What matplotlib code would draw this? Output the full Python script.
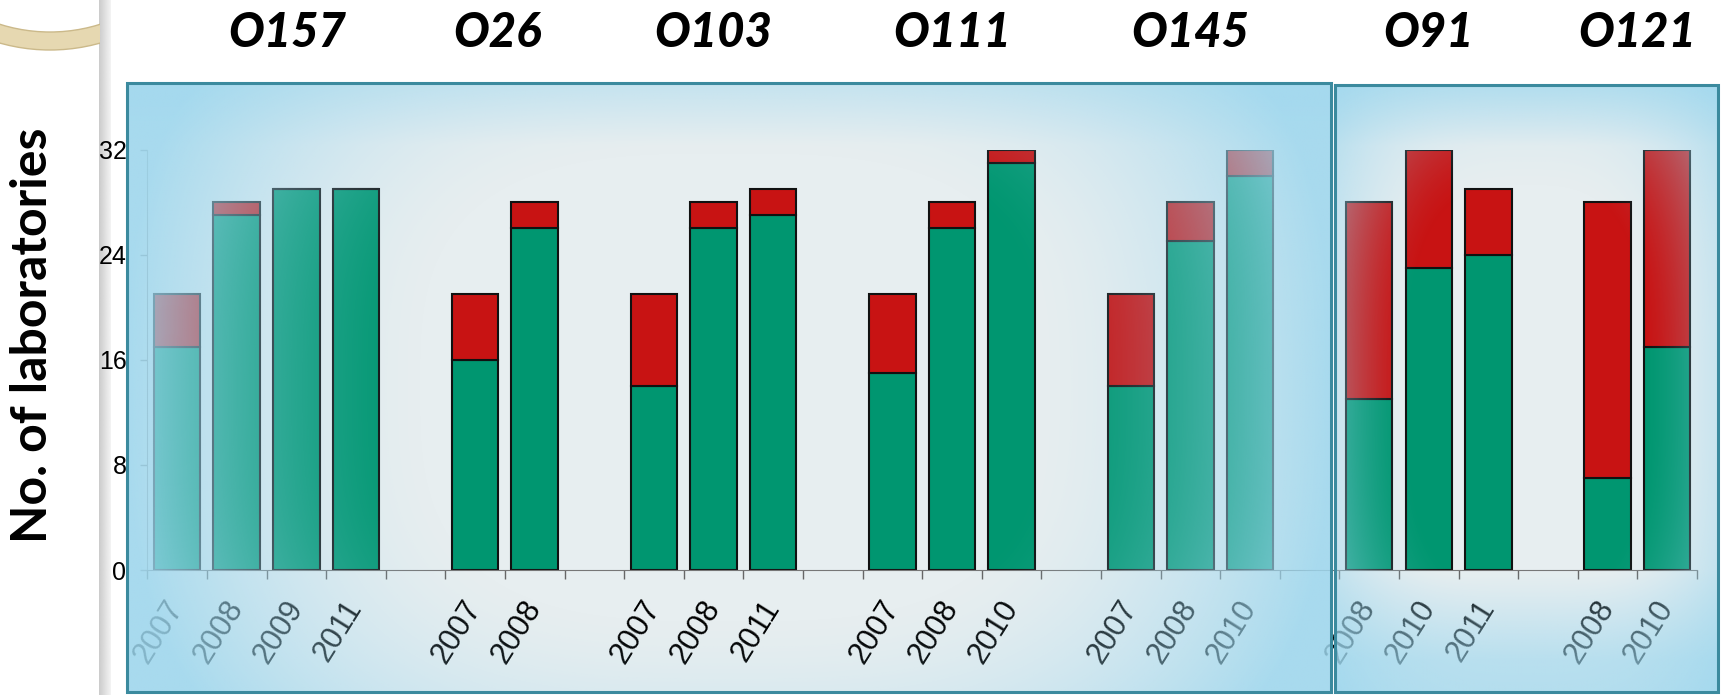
import numpy as np
import matplotlib
matplotlib.use('Agg')
import matplotlib.pyplot as plt
from matplotlib.patches import Rectangle, Annulus

# serogroups, years tested, labs with correct result and labs taking part
groups = ['O157', 'O26', 'O103', 'O111', 'O145', 'O91', 'O121']
years = [['2007', '2008', '2009', '2011'],
         ['2007', '2008'],
         ['2007', '2008', '2011'],
         ['2007', '2008', '2010'],
         ['2007', '2008', '2010'],
         ['2008', '2010', '2011'],
         ['2008', '2010']]
correct = [[17, 27, 29, 29], [16, 26], [14, 26, 27], [15, 26, 31],
           [14, 25, 30], [13, 23, 24], [7, 17]]
total = [[21, 28, 29, 29], [21, 28], [21, 28, 29], [21, 28, 32],
         [21, 28, 32], [28, 32, 29], [28, 32]]
yticks = [0, 8, 16, 24, 32]

# title nudges in slot units (slide text boxes are not exactly centred)
title_shift = [0.35, -0.12, 0, 0, 0, 0, 0]

green_c = '#009670'
red_c = '#c81313'
edge_blue = np.array([157, 215, 238]) / 255.0

W, H = 1725, 695
fig = plt.figure(figsize=(W / 100, H / 100), dpi=100)
fig.patch.set_facecolor('white')


def fr(x0, y0, x1, y1):
    # pixel box (top-left origin) -> figure rect
    return [x0 / W, 1 - y1 / H, (x1 - x0) / W, (y1 - y0) / H]


# one empty slot between groups
xs, labels, green, red, centers = [], [], [], [], []
pos = 0
for yrs, c, t in zip(years, correct, total):
    start = pos
    for y, ci, ti in zip(yrs, c, t):
        xs.append(pos)
        labels.append(y)
        green.append(ci)
        red.append(ti - ci)
        pos += 1
    centers.append((start + pos - 1) / 2)
    pos += 1
n_slots = pos - 1

# box backgrounds
box1 = (127, 83, 1331, 692)
box2 = (1335, 85, 1718, 692)
for b in (box1, box2):
    r = fr(*b)
    fig.add_artist(Rectangle((r[0], r[1]), r[2], r[3], transform=fig.transFigure,
                             facecolor='#e7eef0', edgecolor='none', zorder=-5))

# chart
rect = fr(147.3, 149.5, 1697, 570)
ax = fig.add_axes(rect, zorder=0)
ax.set_facecolor('none')
ax.bar(xs, green, width=0.78, color=green_c, edgecolor='#111111', linewidth=1.5)
ax.bar(xs, red, width=0.78, bottom=green, color=red_c, edgecolor='#111111', linewidth=1.5)
ax.set_xlim(-0.5, n_slots - 0.5)
ax.set_ylim(0, 32)
ax.set_yticks(yticks)
ax.set_xticks(xs)
ax.set_xticklabels(labels, rotation=58, ha='right', va='center', rotation_mode='anchor',
                   fontsize=22, family='Liberation Sans')
ax.set_xticks(np.arange(-0.5, n_slots), minor=True)
ax.tick_params(axis='x', which='major', length=0, pad=24)
ax.tick_params(axis='x', which='minor', length=6.5, width=1, color='#666666')
ax.tick_params(axis='y', length=5, width=1, color='#888888', labelleft=False)
for s in ['top', 'right']:
    ax.spines[s].set_visible(False)
ax.spines['left'].set_color('#999999')
ax.spines['bottom'].set_color('#777777')

# y tick labels sit on top of the blue boxes
ax_lab = fig.add_axes(rect, zorder=8, sharey=ax)
ax_lab.patch.set_alpha(0)
for s in ax_lab.spines.values():
    s.set_visible(False)
ax_lab.tick_params(axis='x', bottom=False, labelbottom=False)
ax_lab.tick_params(axis='y', length=0, pad=15, labelsize=18)
for t in ax_lab.get_yticklabels():
    t.set_family('Liberation Sans')


def glow(b, cu, cv, hu, hv, amax, bottom=0.0, top=0.0):
    nx, ny = 500, 300
    U, V = np.meshgrid(np.linspace(0, 1, nx), np.linspace(0, 1, ny))
    d = ((np.abs(U - cu) / hu) ** 3 + (np.abs(V - cv) / hv) ** 3) ** (1 / 3)
    a = np.clip((d - 0.5) / 0.5, 0, 1) ** 1.5 * amax
    a_bot = np.clip((V - 0.8) / 0.15, 0, 1) * bottom
    a_top = np.clip((0.1 - V) / 0.1, 0, 1) * top
    a = 1 - (1 - a) * (1 - a_bot) * (1 - a_top)
    rgba = np.zeros((ny, nx, 4))
    rgba[..., :3] = edge_blue
    rgba[..., 3] = a
    axo = fig.add_axes(fr(*b), zorder=3)
    axo.imshow(rgba, extent=(0, 1, 0, 1), aspect='auto', interpolation='bilinear')
    axo.set_xlim(0, 1)
    axo.set_ylim(0, 1)
    axo.set_axis_off()
    axo.patch.set_alpha(0)


glow(box1, 0.5, 0.5, 0.5, 0.75, 0.85, top=0.35)
glow(box2, 0.5, 0.5, 0.6, 0.65, 0.75, bottom=0.55, top=0.6)

for b in (box1, box2):
    r = fr(*b)
    fig.add_artist(Rectangle((r[0], r[1]), r[2], r[3], transform=fig.transFigure,
                             facecolor='none', edgecolor='#3b8a9e', linewidth=2.2, zorder=6))

# slide decoration in pixel coordinates: ring and grey strip
deco = fig.add_axes([0, 0, 1, 1], zorder=2)
deco.set_axis_off()
deco.patch.set_alpha(0)
ring = Annulus((50, -135), 185, 18, facecolor='#e6d8b1', edgecolor='#cbb98a', linewidth=1)
deco.add_patch(ring)
ring.set_clip_path(Rectangle((0, 0), 100, H, transform=deco.transData))
strip = np.linspace(0.80, 0.95, 20)
deco.imshow(np.tile(strip, (2, 1)), cmap='gray', vmin=0, vmax=1, aspect='auto',
            extent=(99, 111, H, 0))
deco.set_xlim(0, W)
deco.set_ylim(H, 0)

# group titles
for g, c, s in zip(groups, centers, title_shift):
    xpix = ax.transData.transform((c + s, 0))[0]
    fig.text(xpix / W, 1 - 33 / H, g, ha='center', va='center', fontsize=34,
             family='Lato', weight='black', style='italic')

fig.text(33 / W, 1 - 335 / H, 'No. of laboratories', rotation=90, ha='center', va='center',
         fontsize=36, family='Lato', weight='bold')

fig.savefig('out.png', dpi=100)
